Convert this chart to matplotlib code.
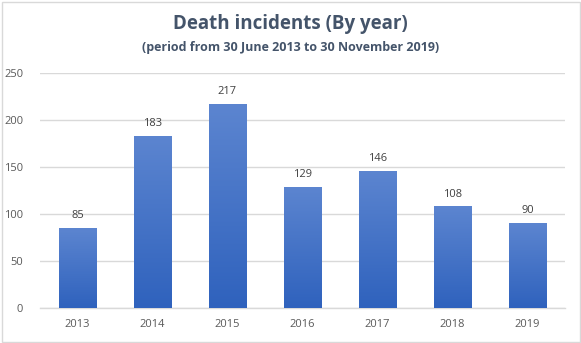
import numpy as np
import matplotlib
matplotlib.use("Agg")
import matplotlib.pyplot as plt
from matplotlib.colors import LinearSegmentedColormap
from matplotlib.patches import Rectangle

years = ["2013", "2014", "2015", "2016", "2017", "2018", "2019"]
deaths = [85, 183, 217, 129, 146, 108, 90]
y_ticks = [0, 50, 100, 150, 200, 250]

W, H = 581, 343
fig = plt.figure(figsize=(W / 100, H / 100), dpi=100)
fig.patch.set_facecolor("white")

# thin light frame around the chart
fig.add_artist(Rectangle((1.5 / W, 1.5 / H), 1 - 3 / W, 1 - 3 / H,
                         transform=fig.transFigure, fill=False,
                         edgecolor="#D9D9D9", linewidth=1))

ax = fig.add_axes([40 / W, 35 / H, 525 / W, 235 / H])
x = np.arange(len(years))
bars = ax.bar(x, deaths, width=0.5, color="none", edgecolor="none", zorder=3)

cmap = LinearSegmentedColormap.from_list("blue_grad", ["#2F62BD", "#5C85D0"])
grad = np.linspace(0, 1, 256).reshape(-1, 1)
for b in bars:
    x0, y0 = b.get_x(), b.get_y()
    w, h = b.get_width(), b.get_height()
    im = ax.imshow(grad, cmap=cmap, origin="lower", aspect="auto",
                   extent=(x0, x0 + w, y0, y0 + h), zorder=3,
                   interpolation="bilinear")
    im.set_clip_path(b)

for xi, v in zip(x, deaths):
    ax.annotate(str(v), (xi, v), xytext=(0, 5), textcoords="offset points",
                ha="center", va="bottom", fontsize=8, color="#404040",
                family="Open Sans")

ax.set_xlim(-0.5, len(years) - 0.5)
ax.set_ylim(0, 250)
ax.set_yticks(y_ticks)
ax.set_xticks(x)
ax.set_xticklabels(years)
ax.tick_params(length=0, labelsize=8, labelcolor="#595959", pad=8)
ax.tick_params(axis="y", pad=12)
for lab in ax.get_xticklabels() + ax.get_yticklabels():
    lab.set_family("Open Sans")
ax.yaxis.grid(True, color="#D9D9D9", linewidth=1, zorder=0)
ax.set_axisbelow(True)
for s in ["top", "right", "left"]:
    ax.spines[s].set_visible(False)
ax.spines["bottom"].set_color("#D9D9D9")
ax.spines["bottom"].set_linewidth(1)

fig.text(0.5, 1 - 24 / H, "Death incidents (By year)", ha="center", va="center",
         fontsize=13.5, fontweight="bold", color="#44546A", family="Open Sans")
fig.text(0.5, 1 - 47 / H, "(period from 30 June 2013 to 30 November 2019)",
         ha="center", va="center", fontsize=9, fontweight="bold",
         color="#44546A", family="Open Sans")

fig.savefig("out.png", dpi=100)
